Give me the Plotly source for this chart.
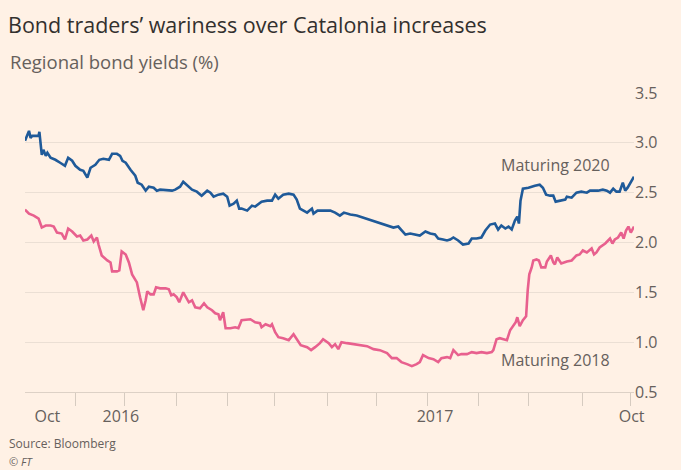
import plotly.graph_objects as go

# ---- data ----
blue_dates = ["2015-09-03","2015-09-08","2015-09-10","2015-09-12","2015-09-20","2015-09-21","2015-09-24","2015-09-26","2015-09-29","2015-10-01",
"2015-10-05","2015-10-11","2015-10-17","2015-10-23","2015-10-27","2015-11-01","2015-11-05","2015-11-11","2015-11-15","2015-11-20",
"2015-11-24","2015-11-30","2015-12-05","2015-12-10","2015-12-17","2015-12-21","2015-12-27","2015-12-31","2016-01-03","2016-01-07",
"2016-01-13","2016-01-19","2016-01-22","2016-01-27","2016-02-01","2016-02-05","2016-02-11","2016-02-15","2016-02-19","2016-02-28",
"2016-03-05","2016-03-09","2016-03-15","2016-03-19","2016-03-24","2016-03-30","2016-04-05","2016-04-11","2016-04-18","2016-04-22",
"2016-04-26","2016-05-02","2016-05-08","2016-05-13","2016-05-16","2016-05-21","2016-05-25","2016-05-28","2016-05-31","2016-06-07",
"2016-06-13","2016-06-17","2016-06-25","2016-07-02","2016-07-08","2016-07-12","2016-07-16","2016-07-22","2016-07-29","2016-08-04",
"2016-08-08","2016-08-12","2016-08-21","2016-08-27","2016-08-29","2016-09-03","2016-09-10","2016-09-19","2016-09-25","2016-10-01",
"2016-10-06","2016-10-14","2016-10-22","2016-10-30","2016-11-08","2016-11-16","2016-11-24","2016-12-03","2016-12-07","2016-12-13",
"2016-12-17","2016-12-22","2016-12-28","2017-01-03","2017-01-09","2017-01-16","2017-01-22","2017-01-28","2017-02-01","2017-02-07",
"2017-02-12","2017-02-16","2017-02-20","2017-02-26","2017-03-04","2017-03-11","2017-03-15","2017-03-21","2017-03-27","2017-04-01",
"2017-04-07","2017-04-13","2017-04-17","2017-04-21","2017-04-26","2017-04-30","2017-05-04","2017-05-08","2017-05-11","2017-05-13",
"2017-05-15","2017-05-18","2017-05-25","2017-06-02","2017-06-08","2017-06-12","2017-06-16","2017-06-21","2017-06-25","2017-06-28",
"2017-07-03","2017-07-10","2017-07-12","2017-07-18","2017-07-24","2017-07-30","2017-08-06","2017-08-10","2017-08-14","2017-08-20",
"2017-08-26","2017-08-31","2017-09-04","2017-09-08","2017-09-12","2017-09-16","2017-09-20","2017-09-23","2017-09-26","2017-09-29",
"2017-10-04"]
blue_vals = [3.02,3.12,3.05,3.07,3.07,3.11,2.88,2.93,2.87,2.90,
2.85,2.83,2.80,2.77,2.85,2.82,2.77,2.73,2.72,2.65,
2.75,2.78,2.83,2.84,2.83,2.89,2.89,2.87,2.82,2.80,
2.73,2.67,2.60,2.58,2.52,2.56,2.55,2.52,2.53,2.52,
2.52,2.53,2.56,2.61,2.57,2.53,2.51,2.47,2.52,2.50,
2.46,2.48,2.49,2.46,2.37,2.39,2.42,2.34,2.34,2.32,
2.37,2.36,2.41,2.42,2.42,2.48,2.44,2.48,2.49,2.48,
2.43,2.34,2.30,2.34,2.29,2.32,2.32,2.32,2.30,2.27,
2.30,2.28,2.27,2.25,2.23,2.21,2.19,2.16,2.15,2.16,
2.12,2.08,2.09,2.08,2.07,2.11,2.09,2.08,2.04,2.03,
2.02,2.03,2.05,2.02,1.98,1.99,2.04,2.04,2.05,2.12,
2.18,2.19,2.13,2.17,2.14,2.16,2.13,2.22,2.26,2.19,
2.42,2.54,2.55,2.57,2.58,2.55,2.48,2.47,2.47,2.41,
2.42,2.43,2.46,2.45,2.50,2.51,2.50,2.52,2.52,2.52,
2.53,2.52,2.50,2.54,2.51,2.51,2.60,2.52,2.55,2.59,
2.66]

pink_dates = ["2015-09-03","2015-09-08","2015-09-14","2015-09-20","2015-09-24","2015-09-29","2015-10-05","2015-10-09","2015-10-13","2015-10-19",
"2015-10-23","2015-10-27","2015-11-01","2015-11-07","2015-11-11","2015-11-15","2015-11-20","2015-11-25","2015-11-28","2015-12-02",
"2015-12-04","2015-12-08","2015-12-15","2015-12-19","2015-12-21","2015-12-27","2015-12-30","2016-01-02","2016-01-07","2016-01-11",
"2016-01-15","2016-01-19","2016-01-21","2016-01-25","2016-01-29","2016-02-01","2016-02-03","2016-02-07","2016-02-11","2016-02-14",
"2016-02-19","2016-02-26","2016-03-01","2016-03-04","2016-03-07","2016-03-11","2016-03-14","2016-03-19","2016-03-23","2016-03-26",
"2016-03-30","2016-04-03","2016-04-09","2016-04-14","2016-04-18","2016-04-24","2016-04-28","2016-05-02","2016-05-04","2016-05-08",
"2016-05-11","2016-05-17","2016-05-23","2016-05-27","2016-05-31","2016-06-11","2016-06-17","2016-06-23","2016-06-25","2016-06-30",
"2016-07-06","2016-07-08","2016-07-12","2016-07-16","2016-07-22","2016-07-29","2016-08-04","2016-08-08","2016-08-13","2016-08-21",
"2016-08-26","2016-08-31","2016-09-06","2016-09-10","2016-09-17","2016-09-21","2016-09-25","2016-09-29","2016-10-03","2016-10-10",
"2016-10-18","2016-10-26","2016-11-04","2016-11-12","2016-11-20","2016-11-29","2016-12-05","2016-12-11","2016-12-17","2016-12-24",
"2016-12-30","2017-01-05","2017-01-09","2017-01-13","2017-01-20","2017-01-26","2017-02-01","2017-02-05","2017-02-12","2017-02-16",
"2017-02-20","2017-02-26","2017-03-02","2017-03-09","2017-03-15","2017-03-21","2017-03-27","2017-04-03","2017-04-09","2017-04-11",
"2017-04-15","2017-04-19","2017-04-26","2017-04-28","2017-05-02","2017-05-07","2017-05-09","2017-05-11","2017-05-14","2017-05-18",
"2017-05-22","2017-05-24","2017-05-26","2017-05-29","2017-05-31","2017-06-04","2017-06-07","2017-06-10","2017-06-15","2017-06-17",
"2017-06-22","2017-06-25","2017-06-27","2017-06-30","2017-07-05","2017-07-12","2017-07-18","2017-07-24","2017-07-28","2017-08-01",
"2017-08-06","2017-08-12","2017-08-15","2017-08-18","2017-08-22","2017-08-29","2017-09-04","2017-09-07","2017-09-10","2017-09-14",
"2017-09-18","2017-09-21","2017-09-24","2017-09-27","2017-09-30","2017-10-02","2017-10-04"]
pink_vals = [2.33,2.29,2.27,2.24,2.15,2.17,2.17,2.16,2.10,2.09,
2.03,2.14,2.11,2.06,2.07,2.02,2.03,2.07,2.01,2.05,
1.98,1.87,1.82,1.80,1.71,1.71,1.72,1.91,1.88,1.80,
1.68,1.62,1.60,1.45,1.32,1.42,1.51,1.48,1.48,1.55,
1.54,1.54,1.53,1.47,1.48,1.45,1.40,1.50,1.45,1.40,
1.42,1.35,1.34,1.39,1.35,1.32,1.29,1.28,1.22,1.30,
1.14,1.14,1.15,1.14,1.22,1.23,1.20,1.19,1.15,1.18,
1.16,1.18,1.10,1.05,1.04,1.02,1.08,1.03,0.97,0.95,
0.92,0.95,0.99,1.03,0.99,0.95,0.98,0.93,1.00,0.99,
0.98,0.97,0.96,0.93,0.92,0.89,0.84,0.84,0.80,0.78,
0.76,0.78,0.80,0.87,0.84,0.83,0.80,0.84,0.85,0.84,
0.92,0.87,0.88,0.88,0.90,0.89,0.90,0.89,0.90,0.92,
1.03,1.04,1.02,1.02,1.12,1.18,1.20,1.25,1.16,1.22,
1.26,1.52,1.68,1.75,1.82,1.83,1.82,1.75,1.75,1.81,
1.87,1.80,1.78,1.85,1.79,1.81,1.82,1.87,1.88,1.92,
1.90,1.94,1.88,1.90,1.95,1.99,2.04,1.99,2.03,2.05,
2.10,2.04,2.12,2.16,2.10,2.13,2.16]

x_label_dates = ["2015-10-01", "2016-01-01", "2017-01-28", "2017-10-01"]
x_label_text = ["Oct", "2016", "2017", "Oct"]
x_tick_dates = ["2015-11-05","2016-01-05","2016-03-11","2016-05-13","2016-07-11","2016-09-15",
                "2016-11-16","2017-01-19","2017-03-23","2017-05-25","2017-07-31","2017-09-30"]
y_ticks = [0.5, 1.0, 1.5, 2.0, 2.5, 3.0, 3.5]

BG = "#FFF1E5"
GREY = "#66605C"
BLUE = "#1F5A99"
PINK = "#E8608E"
FONT = "Open Sans"

fig = go.Figure()
fig.add_trace(go.Scatter(x=blue_dates, y=blue_vals, mode="lines", name="Maturing 2020",
                         line=dict(color=BLUE, width=2.6), hoverinfo="skip"))
fig.add_trace(go.Scatter(x=pink_dates, y=pink_vals, mode="lines", name="Maturing 2018",
                         line=dict(color=PINK, width=2.6), hoverinfo="skip"))

L, R, T, B = 25, 47, 93, 78
W, H = 681, 470
pw, ph = W - L - R, H - T - B

def px(x):
    return (x - L) / pw

def py(y):
    return (H - B - y) / ph

fig.update_layout(
    width=W, height=H,
    margin=dict(l=L, r=R, t=T, b=B),
    paper_bgcolor=BG, plot_bgcolor=BG,
    showlegend=False,
    font=dict(family=FONT, color=GREY, size=16),
    title=dict(text="Bond traders’ wariness over Catalonia increases",
               x=8 / W, xanchor="left", xref="container",
               y=1 - 25 / H, yanchor="middle", yref="container",
               font=dict(family=FONT, size=21.5, color="#33302E")),
    xaxis=dict(
        type="date",
        range=["2015-09-03", "2017-10-04"],
        showgrid=False, zeroline=False,
        showline=True, linecolor="#DDD1C6", linewidth=1,
        tickmode="array", tickvals=x_label_dates, ticktext=x_label_text,
        ticks="outside", ticklen=10, tickcolor="rgba(0,0,0,0)",
        tickfont=dict(family=FONT, size=16, color=GREY),
        minor=dict(tickmode="array", tickvals=x_tick_dates, ticks="outside",
                   ticklen=13, tickwidth=1, tickcolor="#D6CBC0", showgrid=False),
    ),
    yaxis=dict(
        range=[0.5, 3.5], side="right",
        tickmode="array", tickvals=y_ticks, ticktext=[f"{v:.1f}" for v in y_ticks],
        showgrid=True, gridcolor="#EBDFD4", gridwidth=1,
        zeroline=False, showline=False, ticks="",
        tickfont=dict(family=FONT, size=16, color=GREY),
    ),
    annotations=[
        dict(text="Regional bond yields (%)", xref="paper", yref="paper",
             x=px(8), y=py(61), xanchor="left", yanchor="middle", showarrow=False,
             font=dict(family=FONT, size=18.5, color=GREY)),
        dict(text="Maturing 2020", xref="x", yref="y", x="2017-04-18", y=2.78,
             xanchor="left", yanchor="middle", showarrow=False,
             font=dict(family=FONT, size=16, color=GREY)),
        dict(text="Maturing 2018", xref="x", yref="y", x="2017-04-18", y=0.82,
             xanchor="left", yanchor="middle", showarrow=False,
             font=dict(family=FONT, size=16, color=GREY)),
        dict(text="Source: Bloomberg", xref="paper", yref="paper",
             x=px(7), y=py(443), xanchor="left", yanchor="middle", showarrow=False,
             font=dict(family=FONT, size=12, color=GREY)),
        dict(text="<i>© FT</i>", xref="paper", yref="paper",
             x=px(7), y=py(461), xanchor="left", yanchor="middle", showarrow=False,
             font=dict(family=FONT, size=11, color=GREY)),
    ],
)

fig.write_html(
    "out.html",
    config={"displayModeBar": False},
    post_script="document.body.style.margin='0';document.body.style.background='#FFF1E5';",
)
